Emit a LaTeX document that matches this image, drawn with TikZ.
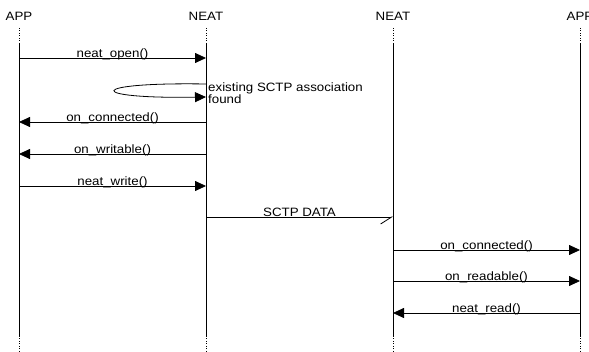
\documentclass[tikz,border=0pt]{standalone}
\usepackage{fontspec}
\setmainfont{Liberation Sans}[FakeStretch=1.1]
\usetikzlibrary{arrows.meta, calc}
\newcommand{\msgfont}{\fontsize{12.1}{10}\selectfont}

\begin{document}
\begin{tikzpicture}[
    x=1pt, y=-1pt,
    entity/.style={anchor=base, inner sep=0pt, font=\msgfont},
    msg/.style={-{Triangle[length=11pt, width=10pt]}, line width=0.8pt},
    async/.style={-{Straight Barb[right, length=11pt, width=14pt]}, line width=0.8pt},
    lbl/.style={midway, anchor=base, yshift=0.5pt, inner sep=0pt, font=\msgfont},
    note/.style={anchor=north west, inner sep=0pt, align=left, font=\msgfont},
    life/.style={line width=0.8pt},
    lifedots/.style={line width=0.8pt, dash pattern=on 1pt off 1.5pt}
]
\useasboundingbox (0,0) rectangle (589,352);

% Entities
\node[entity] (app1) at (19,21) {APP};
\node[entity] (neat1) at (206,21) {NEAT};
\node[entity] (neat2) at (393,21) {NEAT};
\node[entity] (app2) at (580,21) {APP};

% Lifelines
\foreach \n/\x in {app1/19, neat1/206, neat2/393, app2/580} {
    \coordinate (\n-t) at (\x,28);
    \coordinate (\n-s) at (\x,43);
    \coordinate (\n-e) at (\x,336);
    \coordinate (\n-b) at (\x,352);
    \draw[lifedots] (\n-t) -- (\n-s);
    \draw[life] (\n-s) -- (\n-e);
    \draw[lifedots] (\n-e) -- (\n-b);
}

% Message rows
\coordinate (m1) at (0,58);
\coordinate (m2a) at (0,84);
\coordinate (m2b) at (0,97);
\coordinate (m3) at (0,122);
\coordinate (m4) at (0,154);
\coordinate (m5) at (0,186);
\coordinate (m6) at (0,217);
\coordinate (m7) at (0,250);
\coordinate (m8) at (0,281);
\coordinate (m9) at (0,313);

% Local side
\draw[msg] (app1-s |- m1) -- node[lbl] {neat\_open()} (neat1-s |- m1);
\draw[msg] (neat1-s |- m2a) .. controls +(-121,-2) and +(-121,2) .. (neat1-s |- m2b);
\node[note] (found) at ($(neat1-s |- m2a)+(2,-1.5)$) {existing SCTP association\\found};
\draw[msg] (neat1-s |- m3) -- node[lbl] {on\_connected()} (app1-s |- m3);
\draw[msg] (neat1-s |- m4) -- node[lbl] {on\_writable()} (app1-s |- m4);
\draw[msg] (app1-s |- m5) -- node[lbl] {neat\_write()} (neat1-s |- m5);

% Transfer
\draw[async] (neat1-s |- m6) -- node[lbl] {SCTP DATA} (neat2-s |- m6);

% Remote side
\draw[msg] (neat2-s |- m7) -- node[lbl] {on\_connected()} (app2-s |- m7);
\draw[msg] (neat2-s |- m8) -- node[lbl] {on\_readable()} (app2-s |- m8);
\draw[msg] (app2-s |- m9) -- node[lbl] {neat\_read()} (neat2-s |- m9);

\end{tikzpicture}
\end{document}
